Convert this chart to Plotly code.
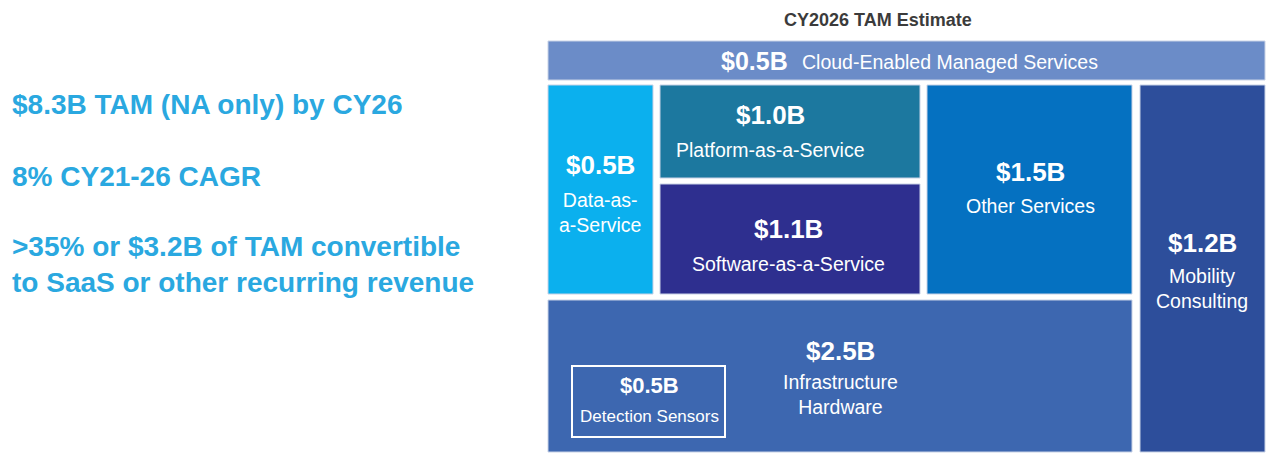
import plotly.graph_objects as go

# data
segments = ["Cloud-Enabled Managed Services", "Data-as-<br>a-Service", "Platform-as-a-Service",
            "Software-as-a-Service", "Other Services", "Mobility<br>Consulting",
            "Infrastructure<br>Hardware", "Detection Sensors"]
values = ["$0.5B", "$0.5B", "$1.0B", "$1.1B", "$1.5B", "$1.2B", "$2.5B", "$0.5B"]
headline = ["$8.3B TAM (NA only) by CY26", "8% CY21-26 CAGR",
            ">35% or $3.2B of TAM convertible<br>to SaaS or other recurring revenue"]

# layout boxes (x0, x1, y0, y1) in page pixels and colours
boxes = [(548, 1265, 41, 80), (548, 653, 85, 294), (660, 920, 85, 178), (660, 920, 184, 294),
         (927, 1132, 85, 294), (1140, 1265, 85, 452), (548, 1132, 300, 452), (572, 725, 366, 437)]
colors = ["#6b8cc8", "#0bb0ee", "#1c789f", "#2e2f8f", "#0571c1", "#2d4e9b", "#3d67b0", None]

fig = go.Figure()
shapes, ann = [], []
for i, (x0, x1, y0, y1) in enumerate(boxes):
    if colors[i]:
        shapes.append(dict(type="rect", x0=x0, x1=x1, y0=y0, y1=y1, fillcolor=colors[i],
                           line=dict(color="#c8d2e6", width=1), layer="below"))
    else:
        shapes.append(dict(type="rect", x0=x0, x1=x1, y0=y0, y1=y1,
                           line=dict(color="white", width=2)))

# cloud row: value and label inline
ann.append(dict(x=790, y=61, text="<b>%s</b>" % values[0], font=dict(size=25, color="white"),
                showarrow=False, xanchor="right"))
ann.append(dict(x=800, y=62, text=segments[0], font=dict(size=19.5, color="white"),
                showarrow=False, xanchor="left"))

# other boxes: value above label
pos = {1: (600, 165, 212), 2: (770, 115, 150), 3: (788, 229, 264), 4: (1030, 172, 206),
       5: (1202, 243, 288), 6: (840, 351, 394), 7: (649, 385, 416)}
for i, (cx, vy, ly) in pos.items():
    ann.append(dict(x=cx, y=vy, text="<b>%s</b>" % values[i], font=dict(size=26 if i != 7 else 22, color="white"),
                    showarrow=False))
    ann.append(dict(x=cx, y=ly, text=segments[i], font=dict(size=19.5 if i != 7 else 17, color="white"),
                    showarrow=False))

ann.append(dict(x=878, y=20, text="<b>CY2026 TAM Estimate</b>", font=dict(size=18, color="#3b3b3b"),
                showarrow=False))
for t, y in zip(headline, [104, 176, 264]):
    ann.append(dict(x=10, y=y, text="<b>%s</b>" % t, font=dict(size=28, color="#2aa8e0"),
                    showarrow=False, xanchor="left", align="left"))

fig.update_layout(
    width=1280, height=460, margin=dict(l=0, r=0, t=0, b=0),
    plot_bgcolor="white", paper_bgcolor="white",
    font=dict(family="Liberation Sans, Arial"),
    xaxis=dict(range=[8, 1288], visible=False, fixedrange=True),
    yaxis=dict(range=[468, 8], visible=False, fixedrange=True),
    shapes=shapes, annotations=ann, showlegend=False,
)
fig.write_html("out.html")
